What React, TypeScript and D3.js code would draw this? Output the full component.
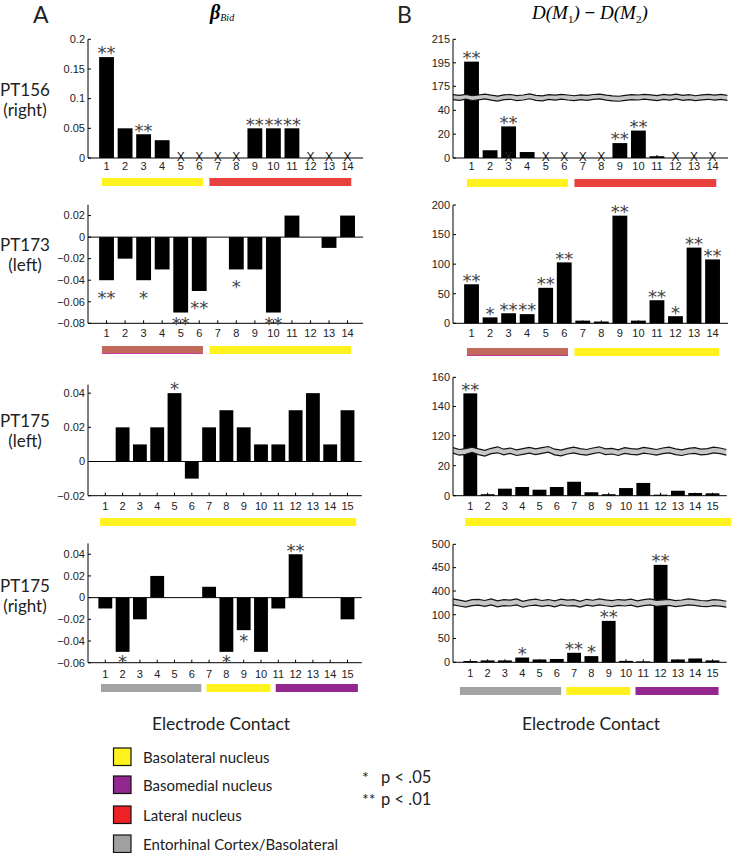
import React from "react";
import * as d3 from "d3";

// ---------- data ----------
const CONTACTS_14 = [1, 2, 3, 4, 5, 6, 7, 8, 9, 10, 11, 12, 13, 14];
const CONTACTS_15 = [1, 2, 3, 4, 5, 6, 7, 8, 9, 10, 11, 12, 13, 14, 15];

// PT156 (right)
const PT156_BETA = [0.17, 0.05, 0.04, 0.03, 0, 0, 0, 0, 0.05, 0.05, 0.05, 0, 0, 0];
const PT156_BETA_SIG = ["**", "", "**", "", "", "", "", "", "**", "**", "**", "", "", ""];
const PT156_BETA_MISSING = [5, 6, 7, 8, 12, 13, 14];
const PT156_D = [196, 6.5, 26.5, 5, 0, 0, 0, 0, 12.5, 23, 1.5, 0, 0, 0];
const PT156_D_SIG = ["**", "", "**", "", "", "", "", "", "**", "**", "", "", "", ""];
const PT156_D_MISSING = [3, 5, 6, 7, 8, 12, 13, 14];
const PT156_BAND_UPPER = [128, 124, 130, 122, 126, 131, 125, 120, 127, 129, 123, 126, 132, 124, 121, 128, 125, 130, 126, 122, 127, 124, 129, 131, 125, 121, 119, 124, 128, 126, 130, 127, 123, 129, 125, 131, 124, 128, 122, 127, 130, 125, 129, 124];
const PT156_BAND_LOWER = [100, 96, 103, 94, 99, 104, 97, 92, 100, 102, 95, 98, 105, 96, 93, 101, 97, 103, 98, 94, 100, 96, 101, 104, 97, 93, 91, 96, 100, 98, 103, 99, 95, 101, 97, 104, 96, 100, 94, 99, 102, 97, 101, 96];

// PT173 (left)
const PT173_BETA = [-0.04, -0.02, -0.04, -0.03, -0.07, -0.05, 0, -0.03, -0.03, -0.07, 0.02, 0, -0.01, 0.02];
const PT173_BETA_SIG = ["**", "", "*", "", "**", "**", "", "*", "", "**", "", "", "", ""];
const PT173_D = [66, 10, 17, 15.5, 60, 103, 4.5, 3, 182, 4.5, 39, 12, 128, 108];
const PT173_D_SIG = ["**", "*", "**", "**", "**", "**", "", "", "**", "", "**", "*", "**", "**"];

// PT175 (left)
const PT175L_BETA = [0, 0.02, 0.01, 0.02, 0.04, -0.01, 0.02, 0.03, 0.02, 0.01, 0.01, 0.03, 0.04, 0.01, 0.03];
const PT175L_BETA_SIG = ["", "", "", "", "*", "", "", "", "", "", "", "", "", "", ""];
const PT175L_D = [149, 1, 4.7, 5.8, 4, 5.8, 9.3, 2.3, 1, 5.1, 8.5, 0.7, 3.3, 1.8, 1.6];
const PT175L_D_SIG = ["**", "", "", "", "", "", "", "", "", "", "", "", "", "", ""];
const PT175L_BAND_UPPER = [80, 74, 77, 82, 76, 71, 78, 83, 75, 79, 73, 77, 81, 76, 80, 84, 75, 72, 78, 82, 77, 74, 79, 83, 76, 78, 73, 80, 77, 75, 81, 78, 74, 79, 82, 76, 73, 78, 80, 75, 77, 82, 79, 74];
const PT175L_BAND_LOWER = [62, 55, 58, 64, 57, 52, 60, 63, 56, 61, 54, 58, 62, 57, 61, 65, 56, 53, 59, 63, 58, 55, 60, 64, 57, 59, 54, 61, 58, 56, 62, 59, 55, 60, 63, 57, 54, 59, 61, 56, 58, 63, 60, 55];

// PT175 (right)
const PT175R_BETA = [-0.01, -0.05, -0.02, 0.02, 0, 0, 0.01, -0.05, -0.03, -0.05, -0.01, 0.04, 0, 0, -0.02];
const PT175R_BETA_SIG = ["", "*", "", "", "", "", "", "*", "*", "", "", "**", "", "", ""];
const PT175R_D = [2.7, 4, 4, 10, 6, 7, 20, 13, 87, 3, 2, 456, 6, 8, 4];
const PT175R_D_SIG = ["", "", "", "*", "", "", "**", "*", "**", "", "", "**", "", "", ""];
const PT175R_BAND_UPPER = [300, 285, 270, 290, 295, 280, 300, 275, 290, 285, 300, 270, 288, 296, 280, 292, 275, 298, 285, 290, 270, 295, 283, 300, 288, 278, 292, 285, 296, 275, 290, 300, 282, 288, 294, 278, 286, 300, 292, 280, 276, 290, 284, 270];
const PT175R_BAND_LOWER = [225, 210, 195, 215, 220, 205, 225, 200, 215, 210, 225, 195, 213, 221, 205, 217, 200, 223, 210, 215, 195, 220, 208, 225, 213, 203, 217, 210, 221, 200, 215, 225, 207, 213, 219, 203, 211, 225, 217, 205, 201, 215, 209, 195];

// axis ticks
const TICKS_PT156_BETA = [0, 0.05, 0.1, 0.15, 0.2];
const TICKS_PT156_D = [0, 20, 40, 175, 195, 215];
const TICKS_PT173_BETA = [-0.08, -0.06, -0.04, -0.02, 0, 0.02];
const TICKS_PT173_D = [0, 50, 100, 150, 200];
const TICKS_PT175L_BETA = [-0.02, 0, 0.02, 0.04];
const TICKS_PT175L_D = [0, 20, 120, 140, 160];
const TICKS_PT175R_BETA = [-0.06, -0.04, -0.02, 0, 0.02, 0.04];
const TICKS_PT175R_D = [0, 50, 100, 400, 450, 500];

// anatomical regions (contact ranges)
const REGIONS_PT156 = [{ from: 1, to: 6, key: "BL" }, { from: 7, to: 14, key: "LN" }];
const REGIONS_PT173 = [{ from: 1, to: 6, key: "MIX" }, { from: 7, to: 14, key: "BL" }];
const REGIONS_PT175L = [{ from: 1, to: 15, key: "BL" }];
const REGIONS_PT175R = [{ from: 1, to: 6, key: "EC" }, { from: 7, to: 10, key: "BL" }, { from: 11, to: 15, key: "BM" }];

const LEGEND_LABELS = ["Basolateral nucleus", "Basomedial nucleus", "Lateral nucleus", "Entorhinal Cortex/Basolateral"];
const LEGEND_KEYS = ["BL", "BM", "LN", "EC"];

// ---------- styles ----------
const REGION_COLORS: Record<string, string> = {
  BL: "#fff21f",
  BM: "#93278f",
  LN: "#e8423f",
  EC: "#a3a3a3",
  MIX: "#c1695b",
};
const LEGEND_COLORS: Record<string, string> = {
  BL: "#fff21f",
  BM: "#92278f",
  LN: "#ec2227",
  EC: "#a0a0a0",
};
const SANS = "Lato, 'Open Sans', sans-serif";
const TICK_FONT = "'Liberation Sans', Arial, sans-serif";
const STAR_FONT = "'DejaVu Sans', sans-serif";

type Cfg = {
  contacts: number[];
  values: number[];
  sig: string[];
  missing?: number[];
  ticks: number[];
  left: number;
  step: number;
  yDomain: number[];
  yRange: number[];
  labelY: number;
  barY: number;
  regions: { from: number; to: number; key: string }[];
  negStar: number;
  band?: { upper: number[]; lower: number[] };
  fmt: (v: number) => string;
  padFirst: number;
  padStart: number;
  padEnd: number;
  padLast: number;
};

const fmtBeta = (v: number) => (v === 0 ? "0" : (v < 0 ? "\u2212" : "") + String(+Math.abs(v).toFixed(3)));
const fmtD = (v: number) => String(v);

function Panel({ cfg }: { cfg: Cfg }) {
  const n = cfg.contacts.length;
  const xMax = n + 1;
  const x = d3.scaleLinear().domain([0, xMax]).range([cfg.left, cfg.left + xMax * cfg.step]);
  const y = d3.scaleLinear().domain(cfg.yDomain).range(cfg.yRange);
  const bw = cfg.step * 0.8;
  const yBottom = cfg.yRange[0];
  const yTop = cfg.yRange[cfg.yRange.length - 1];
  const axisEnd = Math.min(x(xMax) - 3, 728);
  const hasNeg = cfg.yDomain[0] < 0;
  const starSize = 18;

  let bandEls = null;
  if (cfg.band) {
    const m = cfg.band.upper.length;
    const bx = (i: number) => x((i / (m - 1)) * (xMax - 0.2));
    const idx = cfg.band.upper.map((_, i) => i);
    const area = d3
      .area<number>()
      .x((i) => bx(i))
      .y0((i) => y(cfg.band!.lower[i]))
      .y1((i) => y(cfg.band!.upper[i]));
    const lineU = d3.line<number>().x((i) => bx(i)).y((i) => y(cfg.band!.upper[i]));
    const lineL = d3.line<number>().x((i) => bx(i)).y((i) => y(cfg.band!.lower[i]));
    bandEls = (
      <g>
        <path d={area(idx) || ""} fill="#c6c6c6" />
        <path d={lineU(idx) || ""} fill="none" stroke="#111" strokeWidth={1.2} />
        <path d={lineL(idx) || ""} fill="none" stroke="#111" strokeWidth={1.2} />
      </g>
    );
  }

  return (
    <g>
      {/* bars */}
      {cfg.contacts.map((c, i) => {
        const v = cfg.values[i];
        if (v === 0) return null;
        const y0 = y(Math.max(0, v));
        const y1 = y(Math.min(0, v));
        return <rect key={"b" + c} x={x(c) - bw / 2} y={y0} width={bw} height={Math.max(0.8, y1 - y0)} fill="#000" />;
      })}
      {bandEls}
      {/* zero line */}
      {hasNeg && <line x1={cfg.left} x2={axisEnd} y1={y(0)} y2={y(0)} stroke="#000" strokeWidth={1} />}
      {/* axes */}
      <line x1={cfg.left} x2={cfg.left} y1={yTop} y2={yBottom} stroke="#000" strokeWidth={1} />
      <line x1={cfg.left} x2={axisEnd} y1={yBottom} y2={yBottom} stroke="#000" strokeWidth={1} />
      {cfg.ticks.map((t) => (
        <g key={"t" + t}>
          <line x1={cfg.left} x2={cfg.left + 3} y1={y(t)} y2={y(t)} stroke="#000" strokeWidth={1} />
          <text x={cfg.left - 3} y={y(t) + 3.8} textAnchor="end" fontFamily={TICK_FONT} fontSize={11} fill="#222">
            {cfg.fmt(t)}
          </text>
        </g>
      ))}
      {cfg.contacts.map((c) => (
        <g key={"x" + c}>
          <line x1={x(c)} x2={x(c)} y1={yBottom} y2={yBottom - 3} stroke="#000" strokeWidth={1} />
          <text x={x(c)} y={cfg.labelY} textAnchor="middle" fontFamily={TICK_FONT} fontSize={11} fill="#222">
            {c}
          </text>
        </g>
      ))}
      {/* missing contacts */}
      {(cfg.missing || []).map((c) => (
        <text key={"m" + c} x={x(c)} y={y(0) + 3} textAnchor="middle" fontFamily={TICK_FONT} fontSize={12} fill="#222">
          X
        </text>
      ))}
      {/* significance */}
      {cfg.contacts.map((c, i) => {
        const s = cfg.sig[i];
        if (!s) return null;
        const v = cfg.values[i];
        const center = v >= 0 ? y(v) - 8 : Math.min(y(v) + cfg.negStar, yBottom - 4);
        return (
          <text key={"s" + c} x={x(c)} y={center + 0.575 * starSize} textAnchor="middle" fontFamily={STAR_FONT} fontSize={starSize} fill="#444">
            {s}
          </text>
        );
      })}
      {/* region bars */}
      {cfg.regions.map((r, i) => {
        const first = i === 0;
        const last = i === cfg.regions.length - 1;
        const x0 = x(r.from - (first ? cfg.padFirst : cfg.padStart));
        const x1 = Math.min(x(r.to + (last ? cfg.padLast : cfg.padEnd)), 731);
        return (
          <g key={"r" + r.from}>
            <rect x={x0} y={cfg.barY} width={x1 - x0} height={8} fill={REGION_COLORS[r.key]} />
            {r.key === "MIX" && <line x1={x0} x2={x1} y1={cfg.barY + 7.5} y2={cfg.barY + 7.5} stroke="#c23a9a" strokeWidth={1} />}
          </g>
        );
      })}
    </g>
  );
}

const STEP14 = 18.54;
const STEP15 = 17.3;
const PAD14 = { padFirst: 0.25, padStart: 0.45, padEnd: 0.2, padLast: 0.2 };
const PAD15 = { padFirst: 0.3, padStart: 0.25, padEnd: 0.45, padLast: 0.5 };

const PANELS: Cfg[] = [
  {
    contacts: CONTACTS_14, values: PT156_BETA, sig: PT156_BETA_SIG, missing: PT156_BETA_MISSING, ticks: TICKS_PT156_BETA,
    left: 88, step: STEP14, yDomain: [0, 0.2], yRange: [158, 39.3], labelY: 170, barY: 178, regions: REGIONS_PT156, negStar: 13, fmt: fmtBeta, ...PAD14,
  },
  {
    contacts: CONTACTS_14, values: PT156_D, sig: PT156_D_SIG, missing: PT156_D_MISSING, ticks: TICKS_PT156_D,
    left: 453, step: STEP14, yDomain: [0, 40, 175, 215], yRange: [158, 110.3, 86.3, 39.3], labelY: 170, barY: 179, regions: REGIONS_PT156, negStar: 13,
    band: { upper: PT156_BAND_UPPER, lower: PT156_BAND_LOWER }, fmt: fmtD, ...PAD14,
  },
  {
    contacts: CONTACTS_14, values: PT173_BETA, sig: PT173_BETA_SIG, ticks: TICKS_PT173_BETA,
    left: 88, step: STEP14, yDomain: [-0.08, 0.03], yRange: [323.3, 204.8], labelY: 336.5, barY: 346, regions: REGIONS_PT173, negStar: 13, fmt: fmtBeta, ...PAD14,
  },
  {
    contacts: CONTACTS_14, values: PT173_D, sig: PT173_D_SIG, ticks: TICKS_PT173_D,
    left: 453, step: STEP14, yDomain: [0, 200], yRange: [323.3, 205], labelY: 336.5, barY: 348, regions: REGIONS_PT173, negStar: 13, fmt: fmtD,
    ...PAD14, padLast: 0.35,
  },
  {
    contacts: CONTACTS_15, values: PT175L_BETA, sig: PT175L_BETA_SIG, ticks: TICKS_PT175L_BETA,
    left: 88, step: STEP15, yDomain: [-0.02, 0.045], yRange: [495.7, 384.6], labelY: 510, barY: 518, regions: REGIONS_PT175L, negStar: 13, fmt: fmtBeta, ...PAD15,
  },
  {
    contacts: CONTACTS_15, values: PT175L_D, sig: PT175L_D_SIG, ticks: TICKS_PT175L_D,
    left: 453, step: STEP15, yDomain: [0, 20, 120, 160], yRange: [495.7, 465.7, 435.7, 377.3], labelY: 510, barY: 518, regions: REGIONS_PT175L, negStar: 13,
    band: { upper: PT175L_BAND_UPPER, lower: PT175L_BAND_LOWER }, fmt: fmtD, ...PAD15, padLast: 1.1,
  },
  {
    contacts: CONTACTS_15, values: PT175R_BETA, sig: PT175R_BETA_SIG, ticks: TICKS_PT175R_BETA,
    left: 88, step: STEP15, yDomain: [-0.06, 0.05], yRange: [662.7, 543.4], labelY: 678, barY: 684, regions: REGIONS_PT175R, negStar: 6, fmt: fmtBeta,
    ...PAD15, padFirst: 0.25, padStart: 0.15, padEnd: 0.55, padLast: 0.6,
  },
  {
    contacts: CONTACTS_15, values: PT175R_D, sig: PT175R_D_SIG, ticks: TICKS_PT175R_D,
    left: 453, step: STEP15, yDomain: [0, 100, 400, 500], yRange: [662.3, 614.7, 591, 544.3], labelY: 677, barY: 687, regions: REGIONS_PT175R, negStar: 6,
    band: { upper: PT175R_BAND_UPPER, lower: PT175R_BAND_LOWER }, fmt: fmtD, ...PAD15, padFirst: 0.6, padStart: 0.45, padEnd: 0.25, padLast: 0.35,
  },
];

const ROW_LABELS = [
  ["PT156", "(right)"],
  ["PT173", "(left)"],
  ["PT175", "(left)"],
  ["PT175", "(right)"],
];
const ROW_LABEL_Y = [96, 251, 427, 592];
const LEGEND_Y = [748, 776, 806, 835];

export default function App() {
  return (
    <svg width={731} height={853} viewBox="0 0 731 853" style={{ position: "absolute", left: 0, top: 0, background: "#fff" }}>
      <rect width={731} height={853} fill="#fff" />
      <text x={33} y={23} fontFamily={SANS} fontSize={23} fill="#222">A</text>
      <text x={397} y={23} fontFamily={SANS} fontSize={23} fill="#222">B</text>
      <text x={210} y={19} fontFamily="'Liberation Serif', serif" fill="#000">
        <tspan fontStyle="italic" fontWeight="bold" fontSize={20}>β</tspan>
        <tspan fontStyle="italic" fontSize={10} dy={1.5}>Bid</tspan>
      </text>
      <text x={532} y={19} fontFamily="'Liberation Serif', serif" fontSize={19} fill="#000" fontStyle="italic">
        D(M<tspan fontSize={11} fontStyle="normal" dy={4}>1</tspan>
        <tspan dy={-4}>) </tspan>
        <tspan fontStyle="normal" fontWeight="bold">{"\u2212"}</tspan>
        <tspan> D(M</tspan>
        <tspan fontSize={11} fontStyle="normal" dy={4}>2</tspan>
        <tspan dy={-4}>)</tspan>
      </text>
      {ROW_LABELS.map((r, i) => (
        <g key={"rl" + i}>
          <text x={25} y={ROW_LABEL_Y[i]} textAnchor="middle" fontFamily={SANS} fontSize={17} fill="#222">{r[0]}</text>
          <text x={25} y={ROW_LABEL_Y[i] + 20} textAnchor="middle" fontFamily={SANS} fontSize={17} fill="#222">{r[1]}</text>
        </g>
      ))}
      {PANELS.map((p, i) => (
        <Panel key={i} cfg={p} />
      ))}
      <text x={221} y={730} textAnchor="middle" fontFamily={SANS} fontSize={17.5} fill="#222">Electrode Contact</text>
      <text x={591} y={730} textAnchor="middle" fontFamily={SANS} fontSize={17.5} fill="#222">Electrode Contact</text>
      {LEGEND_LABELS.map((l, i) => (
        <g key={"lg" + i}>
          <rect x={113.5} y={LEGEND_Y[i]} width={17.5} height={17.5} fill={LEGEND_COLORS[LEGEND_KEYS[i]]} stroke="#111" strokeWidth={1.2} />
          <text x={143} y={LEGEND_Y[i] + 14.5} fontFamily={SANS} fontSize={15} fill="#222">{l}</text>
        </g>
      ))}
      <text x={362} y={783} fontFamily={SANS} fontSize={16} fill="#222">*</text>
      <text x={381} y={783} fontFamily={SANS} fontSize={16.5} fill="#222">p &lt; .05</text>
      <text x={362} y={805} fontFamily={SANS} fontSize={16} fill="#222">**</text>
      <text x={381} y={805} fontFamily={SANS} fontSize={16.5} fill="#222">p &lt; .01</text>
    </svg>
  );
}
